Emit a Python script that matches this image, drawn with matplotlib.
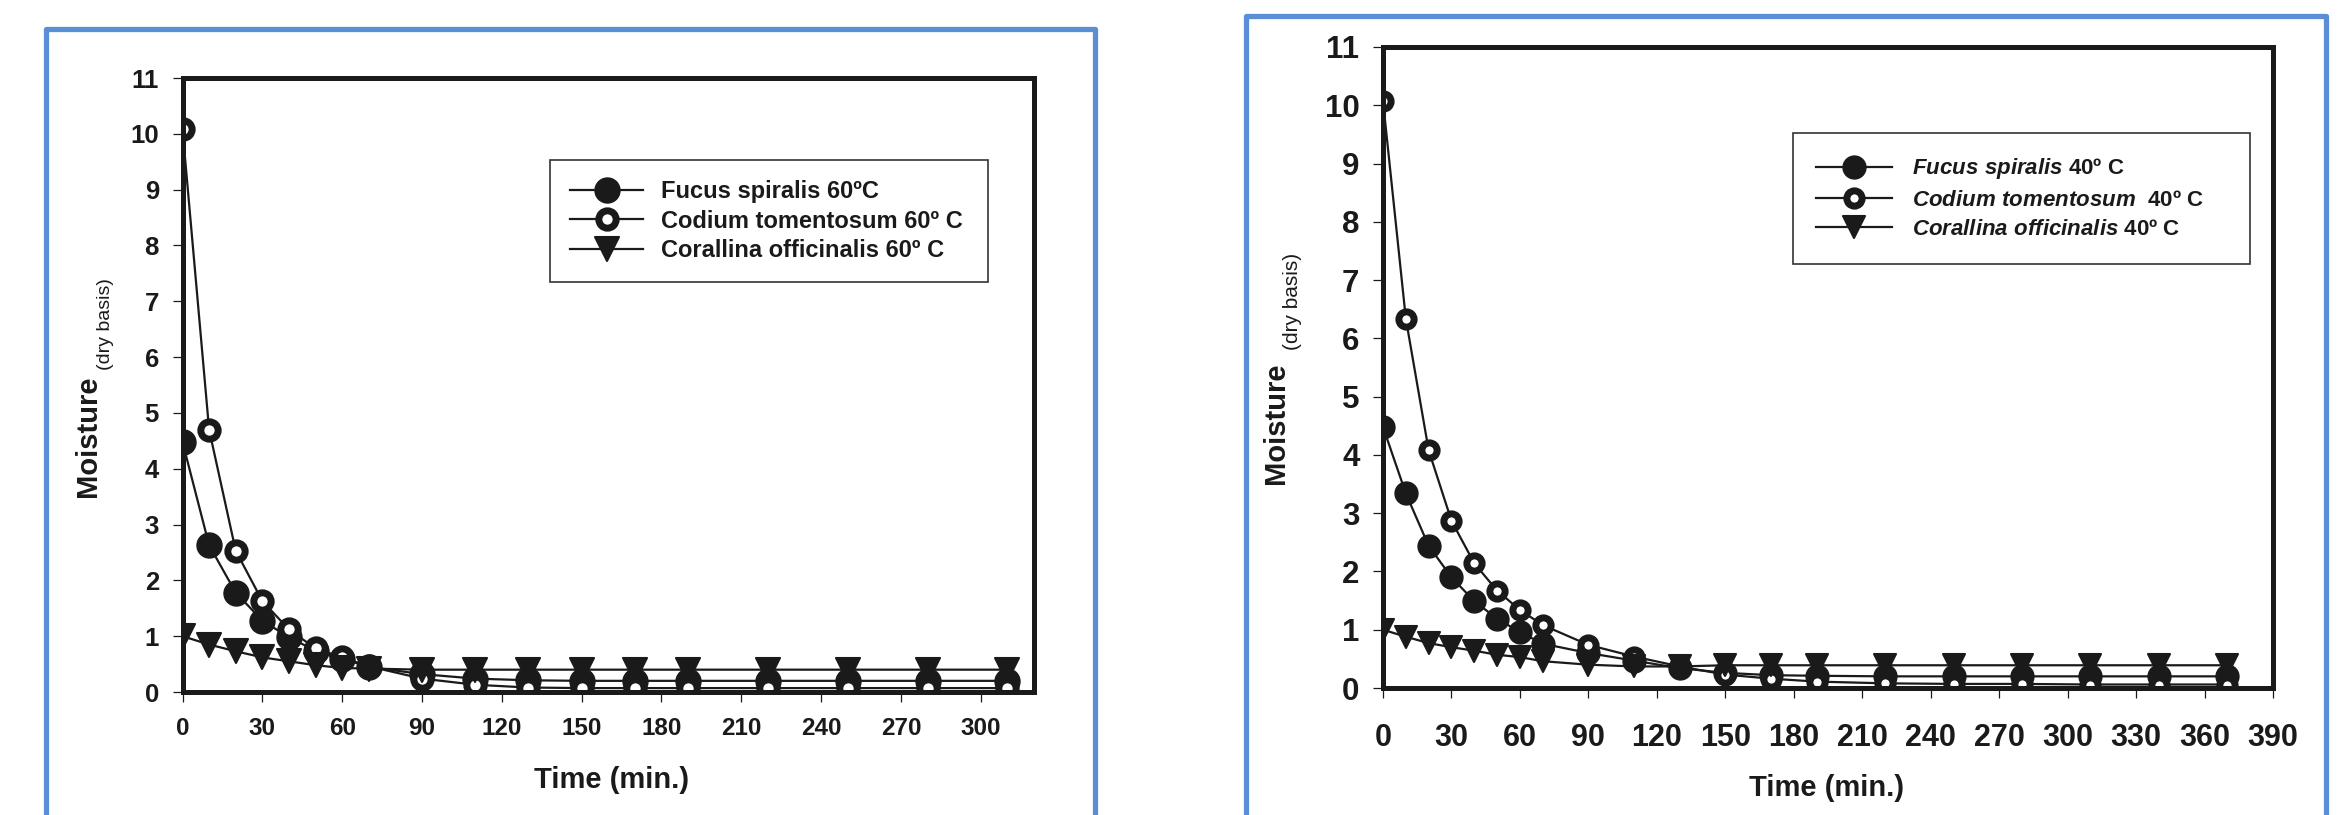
import matplotlib
matplotlib.use("Agg")
import matplotlib.pyplot as plt
from matplotlib.patches import Rectangle
from matplotlib.markers import MarkerStyle

plt.rcParams['font.family'] = ['Liberation Sans', 'DejaVu Sans']
plt.rcParams['mathtext.fontset'] = 'custom'
plt.rcParams['mathtext.it'] = 'Liberation Sans:italic:bold'
plt.rcParams['mathtext.rm'] = 'Liberation Sans:bold'

INK = '#1a1a1a'
BLUE = '#5a8fd6'

# drying at 60 C
time_60 = [0, 10, 20, 30, 40, 50, 60, 70, 90, 110, 130, 150, 170, 190, 220, 250, 280, 310]
fucus_60 = [4.48, 2.63, 1.78, 1.28, 0.98, 0.74, 0.60, 0.45, 0.32, 0.24, 0.21, 0.20,
            0.20, 0.20, 0.20, 0.20, 0.20, 0.20]
codium_60 = [10.08, 4.70, 2.53, 1.63, 1.12, 0.78, 0.62, 0.46, 0.24, 0.13, 0.08, 0.07,
             0.07, 0.07, 0.07, 0.07, 0.07, 0.07]
corallina_60 = [1.00, 0.85, 0.73, 0.62, 0.55, 0.48, 0.43, 0.42, 0.40, 0.40, 0.40, 0.40,
                0.40, 0.40, 0.40, 0.40, 0.40, 0.40]
labels_60 = ['Fucus spiralis 60ºC', 'Codium tomentosum 60º C', 'Corallina officinalis 60º C']

# drying at 40 C
time_40 = [0, 10, 20, 30, 40, 50, 60, 70, 90, 110, 130, 150, 170, 190, 220, 250, 280,
           310, 340, 370]
fucus_40 = [4.48, 3.34, 2.44, 1.90, 1.49, 1.19, 0.96, 0.76, 0.60, 0.47, 0.34, 0.26,
            0.22, 0.21, 0.20, 0.20, 0.20, 0.20, 0.20, 0.20]
codium_40 = [10.07, 6.34, 4.08, 2.87, 2.14, 1.67, 1.34, 1.08, 0.74, 0.54, 0.37, 0.23,
             0.16, 0.11, 0.08, 0.07, 0.07, 0.06, 0.06, 0.06]
corallina_40 = [1.00, 0.88, 0.77, 0.70, 0.64, 0.57, 0.53, 0.46, 0.40, 0.37, 0.37, 0.39,
                0.39, 0.39, 0.39, 0.39, 0.39, 0.39, 0.39, 0.39]
labels_40 = [r'$\mathit{Fucus\ spiralis}$ 40º C',
             r'$\mathit{Codium\ tomentosum}$  40º C',
             r'$\mathit{Corallina\ officinalis}$ 40º C']

W, H = 2349, 815
fig = plt.figure(figsize=(W / 100, H / 100), dpi=100)


def px(x, y):
    # figure pixel (from top-left) -> figure fraction
    return x / W, (H - y) / H


# blue frames around each panel
for x0, x1, y0 in [(46, 1094.5, 29), (1246, 2325.5, 15.5)]:
    fx, fy = px(x0, 840)
    fw = (x1 - x0) / W
    fh = (840 - y0) / H
    fig.add_artist(Rectangle((fx, fy), fw, fh, transform=fig.transFigure,
                             fill=False, edgecolor=BLUE, linewidth=3.8,
                             joinstyle='round'))


def panel(rect, t, fucus, codium, corallina, labels, xmax, xticks, xfs, yfs, xpad, ms, leg):
    ax = fig.add_axes(rect)
    tri = MarkerStyle('v', joinstyle='round')
    ax.plot(t, fucus, color=INK, lw=1.6, marker='o', ms=ms, mfc=INK, mec=INK,
            mew=1, label=labels[0])
    ax.plot(t, codium, color=INK, lw=1.6, marker='o', ms=ms - 5.5, mfc='white',
            mec=INK, mew=5, label=labels[1])
    ax.plot(t, corallina, color=INK, lw=1.6, marker=tri, ms=ms - 1, mfc=INK,
            mec=INK, mew=1.5, label=labels[2])
    ax.set_xlim(0, xmax)
    ax.set_ylim(0, 11)
    ax.set_xticks(xticks)
    ax.set_yticks(range(0, 12))
    for s in ax.spines.values():
        s.set_linewidth(3.6)
        s.set_color(INK)
    ax.tick_params(axis='both', direction='out', color=INK, width=0.9,
                   labelcolor=INK)
    ax.tick_params(axis='y', length=7, pad=10, labelsize=yfs)
    ax.tick_params(axis='x', length=7, pad=xpad, labelsize=xfs)
    for lab in ax.get_xticklabels() + ax.get_yticklabels():
        lab.set_fontweight('bold')
    bx, by, bw, fs, hl, hp, bp, ls = leg
    fx, fy = px(bx, by)
    lg = ax.legend(loc='upper left', bbox_to_anchor=(fx, fy - 0.1, bw / W, 0.1),
                   bbox_transform=fig.transFigure, mode='expand', borderaxespad=0,
                   frameon=True, fancybox=False, framealpha=1, edgecolor='#333333',
                   prop={'weight': 'bold', 'size': fs}, handlelength=hl,
                   handletextpad=hp, borderpad=bp, labelspacing=ls)
    lg.get_frame().set_linewidth(1.2)
    for txt in lg.get_texts():
        txt.set_color(INK)
    return ax


panel([182.5 / W, 123 / H, 851.5 / W, 614 / H], time_60, fucus_60, codium_60,
      corallina_60, labels_60, 320, range(0, 301, 30), 17.5, 18.5, 11, 18,
      (550, 160, 438, 17, 3.1, 0.75, 0.85, 0.28))
panel([1383 / W, 127 / H, 890 / W, 641 / H], time_40, fucus_40, codium_40,
      corallina_40, labels_40, 390, range(0, 391, 30), 22, 22.5, 18, 16.5,
      (1793, 133, 457, 16, 3.4, 0.9, 1.05, 0.38))

# axis titles
for (mx, my), (dx, dy), (tx, ty), fs_m, fs_d in [
        ((88, 436), (106, 324), (612, 780), 21, 14),
        ((1276, 423), (1293, 301), (1827, 788), 21, 15)]:
    fig.text(*px(mx, my), 'Moisture', rotation=90, ha='center', va='center',
             fontsize=fs_m, fontweight='bold', color=INK)
    fig.text(*px(dx, dy), '(dry basis)', rotation=90, ha='center', va='center',
             fontsize=fs_d, color=INK)
    fig.text(*px(tx, ty), 'Time (min.)', ha='center', va='center',
             fontsize=21, fontweight='bold', color=INK)

fig.savefig('out.png', dpi=100)
